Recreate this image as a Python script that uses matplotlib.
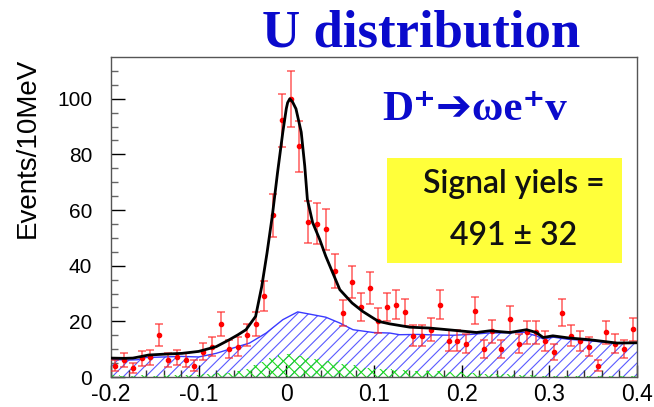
import numpy as np
import matplotlib
matplotlib.use("Agg")
import matplotlib.pyplot as plt
from matplotlib.patches import Rectangle

# U distribution, 10 MeV bins from -0.2 to 0.4 GeV
bin_edges = np.round(np.arange(-0.20, 0.4001, 0.01), 3)
bin_centers = 0.5 * (bin_edges[:-1] + bin_edges[1:])

counts = [4.0, 6.1, 3.1, 6.7, 7.1, 15.0, 6.1, 7.1, 6.1, 4.0,
          9.1, 10.9, 19.1, 10.1, 10.9, 15.2, 19.1, 29.1, 58.1, 92.2,
          100.0, 82.9, 55.8, 55.1, 53.1, 38.0, 23.0, 34.2, 25.2, 32.0,
          20.2, 25.2, 26.0, 23.2, 14.9, 14.9, 17.0, 26.0, 13.1, 13.1,
          12.0, 23.9, 10.1, 16.4, 10.1, 20.9, 12.0, 16.0, 16.0, 13.0,
          9.0, 23.1, 14.9, 13.0, 10.9, 4.0, 16.0, 12.0, 10.1, 17.1]

# peaking background (green)
peak_bkg = [0.6, 0.4, 0.5, 0.6, 0.4, 0.5, 0.7, 0.6, 0.8, 0.7,
            1.0, 1.2, 1.5, 1.6, 2.2, 3.0, 4.2, 5.5, 7.0, 8.0,
            8.4, 7.6, 6.8, 6.5, 5.8, 5.4, 4.6, 4.4, 3.6, 3.4,
            3.0, 2.8, 2.5, 2.4, 2.2, 2.3, 2.1, 2.0, 1.8, 1.7,
            1.5, 1.3, 1.2, 1.0, 1.1, 0.9, 0.8, 0.7, 0.6, 0.5,
            0.4, 0.5, 0.3, 0.4, 0.3, 0.3, 0.2, 0.3, 0.2, 0.2]

# total fit
fit_x = [-0.200, -0.185, -0.175, -0.165, -0.157, -0.140, -0.119, -0.100,
         -0.080, -0.065, -0.055, -0.046, -0.035, -0.028, -0.022, -0.016,
         -0.010, -0.004, 0.000, 0.0015, 0.004, 0.0072, 0.011, 0.017, 0.021,
         0.024, 0.030, 0.038, 0.045, 0.053, 0.061, 0.075, 0.087, 0.105,
         0.118, 0.141, 0.163, 0.194, 0.217, 0.232, 0.255, 0.274, 0.285,
         0.293, 0.304, 0.323, 0.346, 0.377, 0.400]
fit_y = [6.8, 6.7, 6.8, 7.4, 7.9, 8.2, 8.5, 9.2,
         10.9, 13.4, 15.2, 17.0, 21.8, 32.6, 44.6, 57.9,
         73.5, 88.0, 96.5, 98.6, 100.0, 98.8, 96.4, 88.0, 75.9,
         63.9, 55.5, 49.5, 43.4, 37.4, 31.4, 26.6, 23.6, 20.0,
         19.1, 17.9, 17.6, 16.7, 16.0, 16.6, 16.0, 17.0, 16.0,
         14.2, 14.8, 14.0, 13.4, 12.2, 12.3]

# combinatorial background (blue)
bkg_x = [-0.200, -0.180, -0.170, -0.160, -0.140, -0.120, -0.100, -0.080,
         -0.065, -0.042, -0.023, -0.004, 0.013, 0.030, 0.045, 0.061, 0.076,
         0.099, 0.118, 0.129, 0.150, 0.170, 0.190, 0.210, 0.230, 0.250,
         0.271, 0.285, 0.293, 0.305, 0.320, 0.346, 0.370, 0.400]
bkg_y = [6.3, 6.1, 6.2, 7.0, 7.2, 7.4, 7.2, 8.5,
         10.0, 12.2, 15.8, 20.6, 23.4, 22.4, 21.5, 19.4, 17.0,
         16.0, 15.8, 15.2, 15.3, 15.1, 15.0, 15.3, 15.8, 15.9,
         16.1, 14.8, 13.7, 14.3, 13.6, 13.0, 12.3, 12.2]

x_ticks = [-0.2, -0.1, 0.0, 0.1, 0.2, 0.3, 0.4]
x_ticklabels = ["-0.2", "-0.1", "0", "0.1", "0.2", "0.3", "0.4"]
y_ticks = [0, 20, 40, 60, 80, 100]

blue = "#0a0acc"

plt.rcParams["hatch.linewidth"] = 0.8

fig = plt.figure(figsize=(6.54, 4.07), dpi=100)
ax = fig.add_axes([0.1697, 0.0737, 0.8043, 0.7862])

# blue hatched background
ax.fill_between(bkg_x, 0, bkg_y, facecolor="none", edgecolor="#5a5aff",
                hatch="///", linewidth=0, zorder=1)
ax.plot(bkg_x, bkg_y, color="#3a3aff", lw=1.0, zorder=2)

# green cross-hatched peaking background
ax.stairs(peak_bkg, bin_edges, fill=True, facecolor="none",
          edgecolor="#22dd22", hatch="xxx", linewidth=0, zorder=2)

# data with Poisson errors
ax.errorbar(bin_centers, counts, yerr=np.sqrt(counts), fmt="o", ms=3,
            color="red", ecolor=(1, 0.15, 0.15, 0.75), elinewidth=1.1,
            capsize=2.6, capthick=1.1, zorder=3)

ax.plot(fit_x, fit_y, color="black", lw=2.0, solid_joinstyle="round", zorder=4)

ax.set_xlim(-0.2, 0.4)
ax.set_ylim(0, 115)
ax.set_xticks(x_ticks)
ax.set_xticklabels(x_ticklabels)
ax.set_yticks(y_ticks)
ax.set_xticks(np.arange(-0.2, 0.401, 0.02), minor=True)
ax.set_yticks(np.arange(0, 115, 5), minor=True)
ax.tick_params(which="both", direction="in", top=False, right=False)
ax.tick_params(axis="y", which="major", length=10, width=1, pad=13.5)
ax.tick_params(axis="y", which="minor", length=5, width=1, color="#666666")
ax.tick_params(axis="x", which="major", length=9, width=1, pad=4)
ax.tick_params(axis="x", which="minor", length=5, width=1, color="#333333")
for lab in ax.get_xticklabels():
    lab.set_fontfamily("Liberation Sans")
    lab.set_fontsize(16.5)
for lab in ax.get_yticklabels():
    lab.set_fontfamily("Liberation Sans")
    lab.set_fontsize(15)
for sp in ax.spines.values():
    sp.set_color("#555555")
    sp.set_linewidth(1.0)

fig.text(0.043, 0.636, "Events/10MeV", rotation=90, ha="center", va="center",
         fontsize=20, family="Liberation Sans")

fig.text(0.6437, 0.885, "U distribution", ha="center", va="baseline",
         fontsize=38, fontweight="bold", family="Liberation Serif", color=blue)

fig.text(0.584, 0.706, "D\u207a\u2794\u03c9e\u207av", ha="left", va="baseline",
         fontsize=31, fontweight="bold", color=blue,
         family=["Liberation Serif", "DejaVu Sans"])

# signal yield box
fig.patches.append(Rectangle((0.5913, 0.3545), 0.3593, 0.2565,
                             transform=fig.transFigure, facecolor="#ffff3a",
                             edgecolor="none", zorder=5))
fig.text(0.786, 0.525, "Signal yiels =", ha="center", va="baseline",
         fontsize=23, fontweight="semibold", family="Lato", color="#111111",
         zorder=6)
fig.text(0.785, 0.398, "491 \u00b1 32", ha="center", va="baseline",
         fontsize=23, fontweight="semibold", family="Lato", color="#111111",
         zorder=6)

fig.savefig("out.png", dpi=100)
